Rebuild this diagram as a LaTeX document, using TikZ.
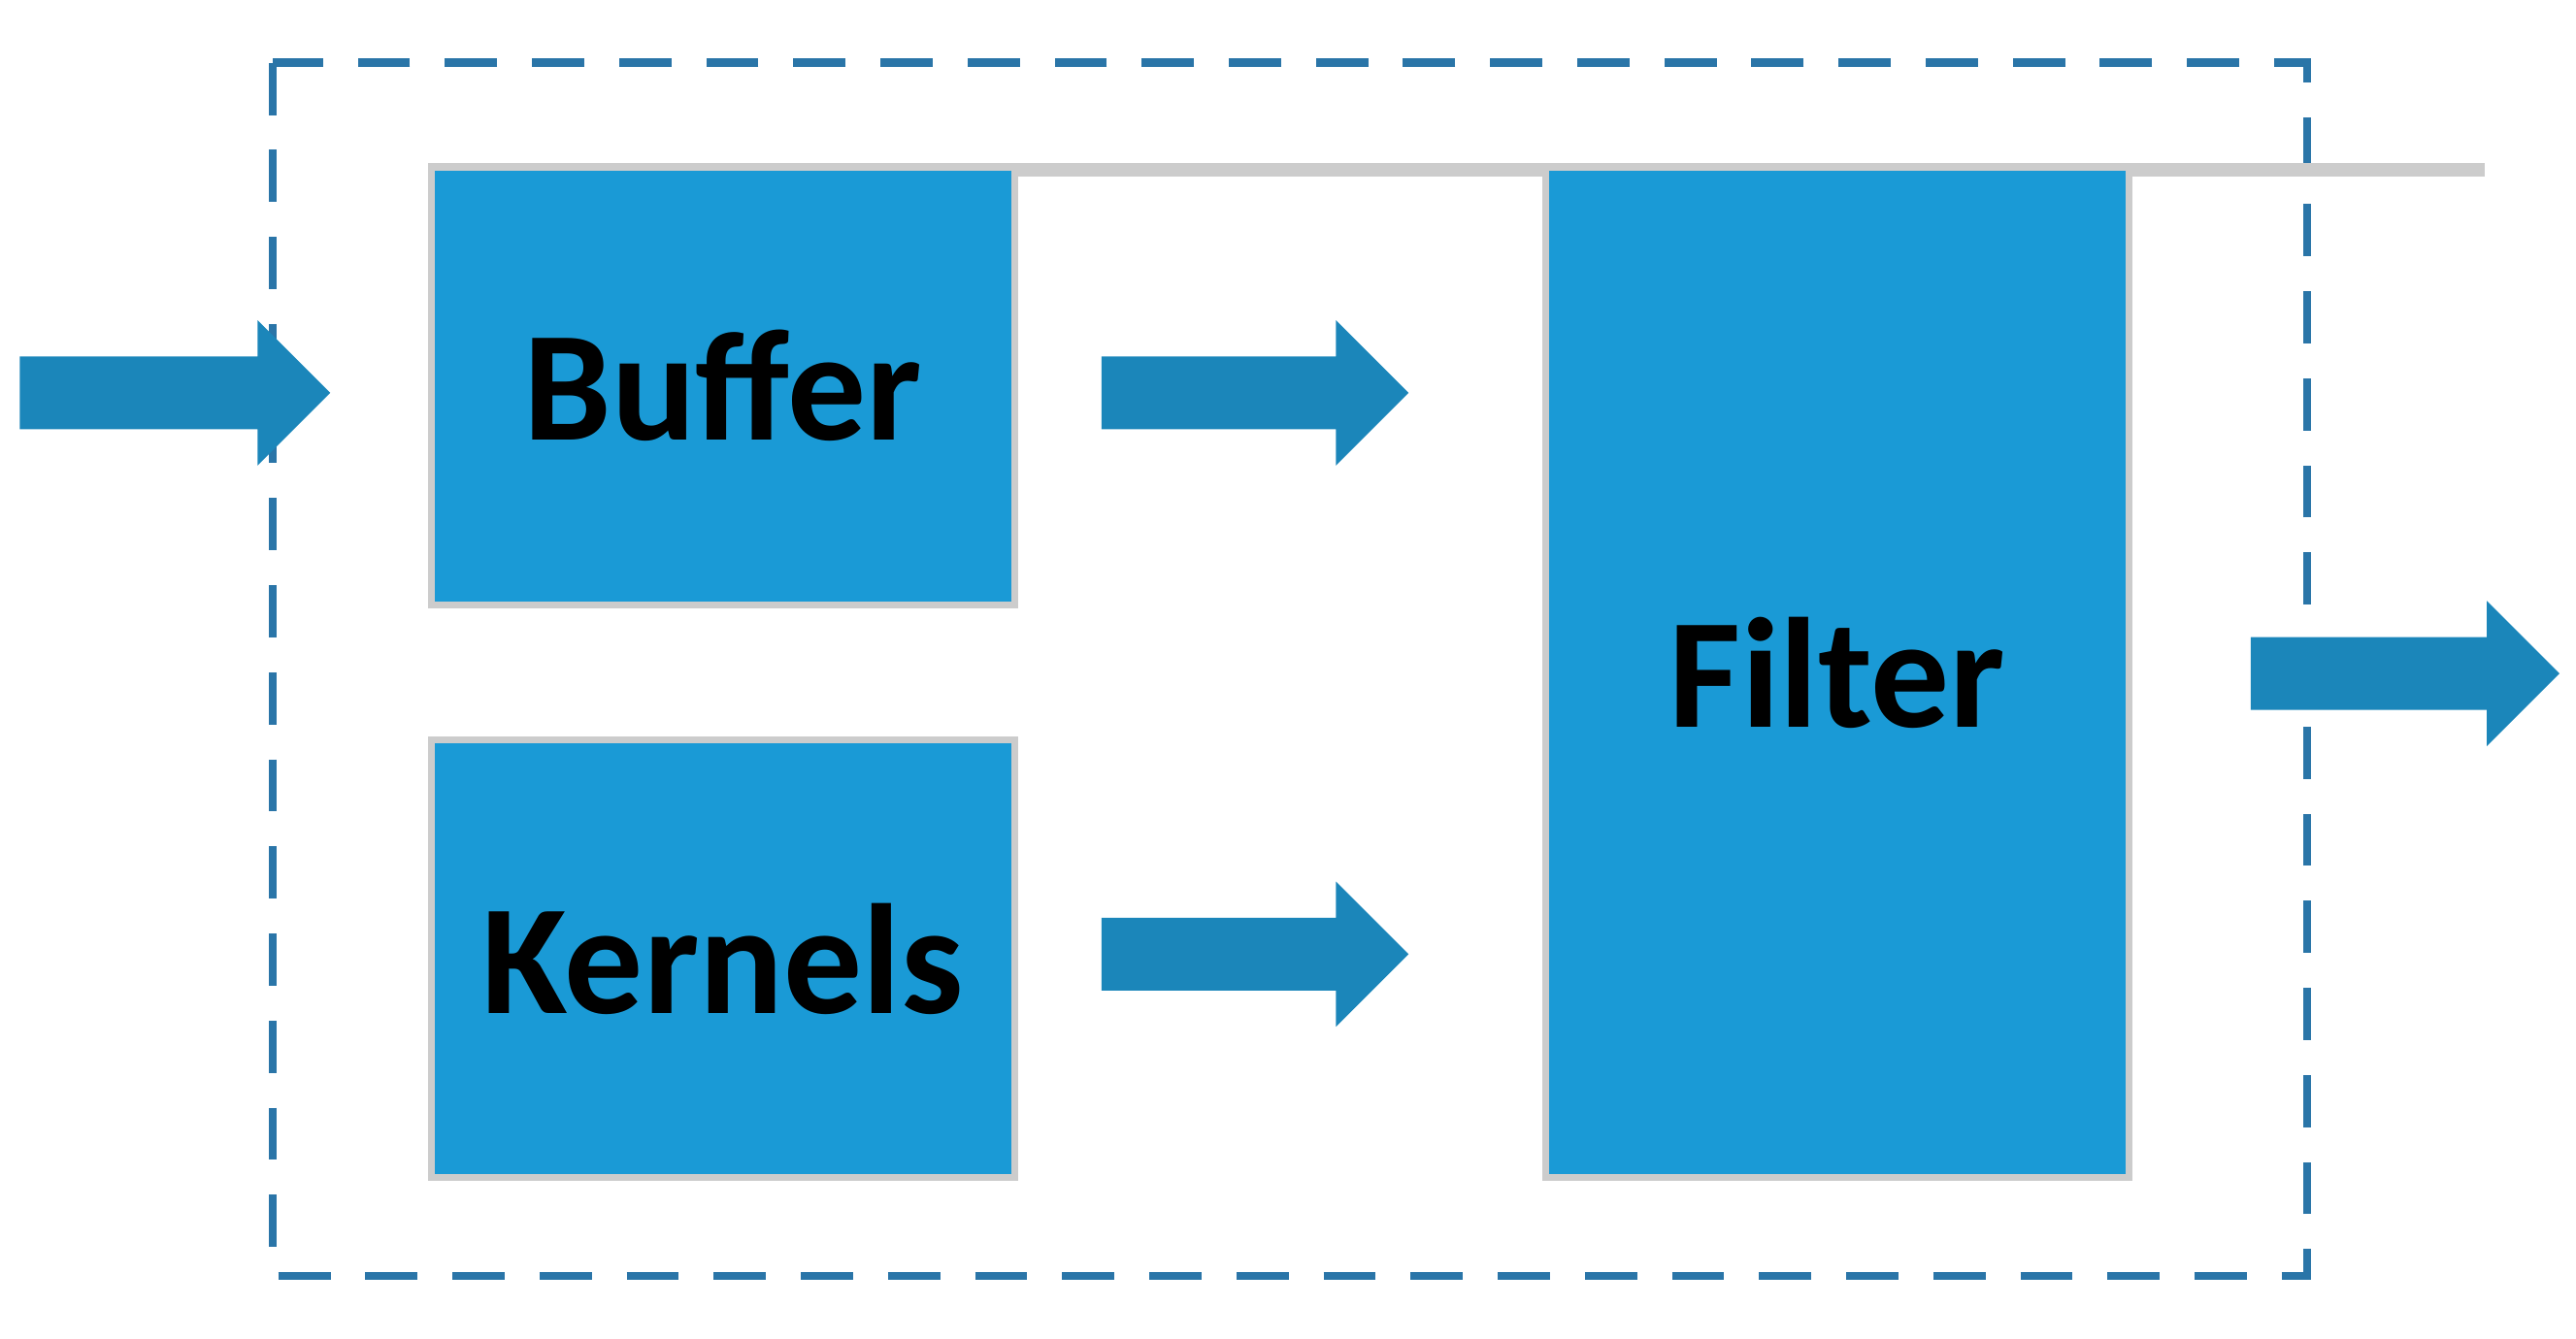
\documentclass[tikz,border=0pt]{standalone}
\usepackage{fontspec}
\setmainfont{Carlito}
\begin{document}
\begin{tikzpicture}[x=0.01cm,y=-0.01cm,
  blk/.style={draw=black!20,line width=1.2pt,fill=blockblue,inner sep=0pt,font=\fontsize{27}{32}\selectfont\bfseries},
  arr/.style={fill=arrowblue}]
\definecolor{blockblue}{HTML}{1A9AD6}
\definecolor{arrowblue}{HTML}{1B86BA}
\definecolor{dashblue}{HTML}{2A75A8}
\useasboundingbox (0,0) rectangle (1560,811);
\draw[dashblue,line width=1.4pt,dash pattern=on 9pt off 6pt] (165,38) rectangle (1397,773);
\node[blk,minimum width=353\pgflinewidth/1.2,anchor=north west] at (259,99) {};
\node[blk] (buffer) [minimum width=3.53cm,minimum height=2.65cm,anchor=north west] at (259,99) {Buffer};
\node[blk] (kernels) [minimum width=3.53cm,minimum height=2.65cm,anchor=north west] at (259,446) {Kernels};
\node[blk] (filter) [minimum width=3.53cm,minimum height=6.12cm,anchor=north west] at (934,99) {Filter};
\newcommand{\blkarrow}[3]{% x0 x1 ycenter
  \fill[arr] (#1,#3-22) -- (#2-44,#3-22) -- (#2-44,#3-44) -- (#2,#3) -- (#2-44,#3+44) -- (#2-44,#3+22) -- (#1,#3+22) -- cycle;}
\blkarrow{12}{200}{238}
\blkarrow{667}{853}{238}
\blkarrow{667}{853}{578}
\blkarrow{1363}{1550}{408}
\end{tikzpicture}
\end{document}
